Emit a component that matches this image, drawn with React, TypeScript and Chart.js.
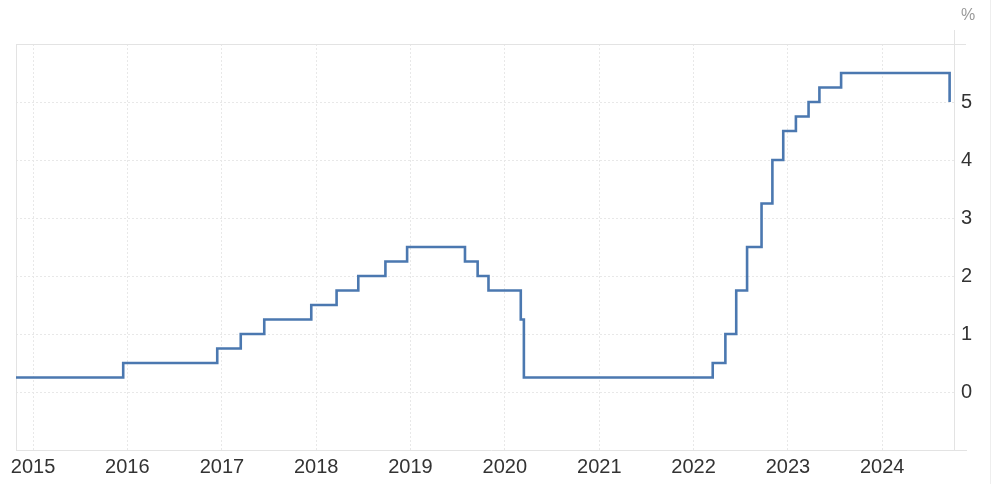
import React, { useEffect, useRef } from "react";
import { Chart, registerables } from "chart.js";

Chart.register(...registerables);

// Effective dates of each rate change (upper bound, %)
const changeDates: string[] = [
  "2014-10-27", "2015-12-16", "2016-12-14", "2017-03-15", "2017-06-14",
  "2017-12-13", "2018-03-21", "2018-06-13", "2018-09-26", "2018-12-19",
  "2019-07-31", "2019-09-18", "2019-10-30", "2020-03-03", "2020-03-15",
  "2022-03-16", "2022-05-04", "2022-06-15", "2022-07-27", "2022-09-21",
  "2022-11-02", "2022-12-14", "2023-02-01", "2023-03-22", "2023-05-03",
  "2023-07-26", "2024-09-18",
];
const rateValues: number[] = [
  0.25, 0.5, 0.75, 1.0, 1.25,
  1.5, 1.75, 2.0, 2.25, 2.5,
  2.25, 2.0, 1.75, 1.25, 0.25,
  0.5, 1.0, 1.75, 2.5, 3.25,
  4.0, 4.5, 4.75, 5.0, 5.25,
  5.5, 5.0,
];
const yearTicks: number[] = [2015, 2016, 2017, 2018, 2019, 2020, 2021, 2022, 2023, 2024];
const axisStart = "2014-10-27";
const axisEnd = "2024-10-05";
const unitLabel = "%";

const ts = (d: string) => {
  const [y, m, day] = d.split("-").map(Number);
  return Date.UTC(y, m - 1, day);
};

const FONT = "'Liberation Sans', Arial, sans-serif";

export default function App() {
  const ref = useRef<HTMLCanvasElement | null>(null);

  useEffect(() => {
    document.body.style.margin = "0";
    const canvas = ref.current;
    if (!canvas) return;

    const frame = {
      id: "frame",
      beforeDatasetsDraw(chart: any) {
        const { ctx, chartArea } = chart;
        const { left, right, top, bottom } = chartArea;
        ctx.save();
        ctx.strokeStyle = "#e3e3e3";
        ctx.lineWidth = 1;
        ctx.setLineDash([]);
        ctx.beginPath();
        ctx.moveTo(left + 0.5, top);
        ctx.lineTo(left + 0.5, bottom);
        ctx.moveTo(Math.round(right) + 0.5, top - 14);
        ctx.lineTo(Math.round(right) + 0.5, bottom);
        ctx.moveTo(left, Math.round(bottom) + 0.5);
        ctx.lineTo(right + 13, Math.round(bottom) + 0.5);
        ctx.moveTo(left, Math.round(top) + 0.5);
        ctx.lineTo(right + 12, Math.round(top) + 0.5);
        ctx.stroke();
        ctx.strokeStyle = "#eeeeee";
        ctx.beginPath();
        ctx.moveTo(990.5, 0);
        ctx.lineTo(990.5, 484);
        ctx.stroke();
        ctx.restore();
      },
      afterDraw(chart: any) {
        const { ctx } = chart;
        ctx.save();
        ctx.fillStyle = "#999";
        ctx.font = `16px ${FONT}`;
        ctx.textAlign = "left";
        ctx.textBaseline = "middle";
        ctx.fillText(unitLabel, 961, 16);
        ctx.restore();
      },
    };

    const chart = new Chart(canvas, {
      type: "line",
      data: {
        datasets: [
          {
            data: changeDates.map((d, i) => ({ x: ts(d), y: rateValues[i] })),
            borderColor: "#4b78b0",
            borderWidth: 2.6,
            pointRadius: 0,
            stepped: "before",
            fill: false,
          },
        ],
      },
      options: {
        animation: false,
        responsive: false,
        maintainAspectRatio: false,
        layout: { padding: { left: 16, top: 44, right: 0, bottom: 0 } },
        plugins: {
          legend: { display: false },
          tooltip: { enabled: false },
          title: { display: false },
        },
        scales: {
          x: {
            type: "linear",
            min: ts(axisStart),
            max: ts(axisEnd),
            afterBuildTicks: (scale: any) => {
              scale.ticks = yearTicks.map((y) => ({ value: Date.UTC(y, 0, 1) }));
            },
            afterFit: (scale: any) => {
              scale.height = 34;
            },
            ticks: {
              autoSkip: false,
              maxRotation: 0,
              padding: 5,
              color: "#333",
              font: { family: FONT, size: 20 },
              callback: (v: any) => String(new Date(Number(v)).getUTCFullYear()),
            },
            grid: {
              color: "#e8e8e8",
              drawTicks: false,
            },
            border: { display: false, dash: [2, 2] },
          },
          y: {
            position: "right",
            min: -1,
            max: 6,
            afterBuildTicks: (scale: any) => {
              scale.ticks = [0, 1, 2, 3, 4, 5].map((v) => ({ value: v }));
            },
            afterFit: (scale: any) => {
              scale.width = 42;
            },
            ticks: {
              padding: 7,
              color: "#333",
              font: { family: FONT, size: 20 },
              callback: (v: any) => String(v),
            },
            grid: {
              color: "#e8e8e8",
              drawTicks: false,
            },
            border: { display: false, dash: [2, 2] },
          },
        },
      } as any,
      plugins: [frame],
    });

    return () => chart.destroy();
  }, []);

  return (
    <div style={{ width: 996, height: 484 }}>
      <canvas ref={ref} width={996} height={484} style={{ width: 996, height: 484, display: "block" }} />
    </div>
  );
}
